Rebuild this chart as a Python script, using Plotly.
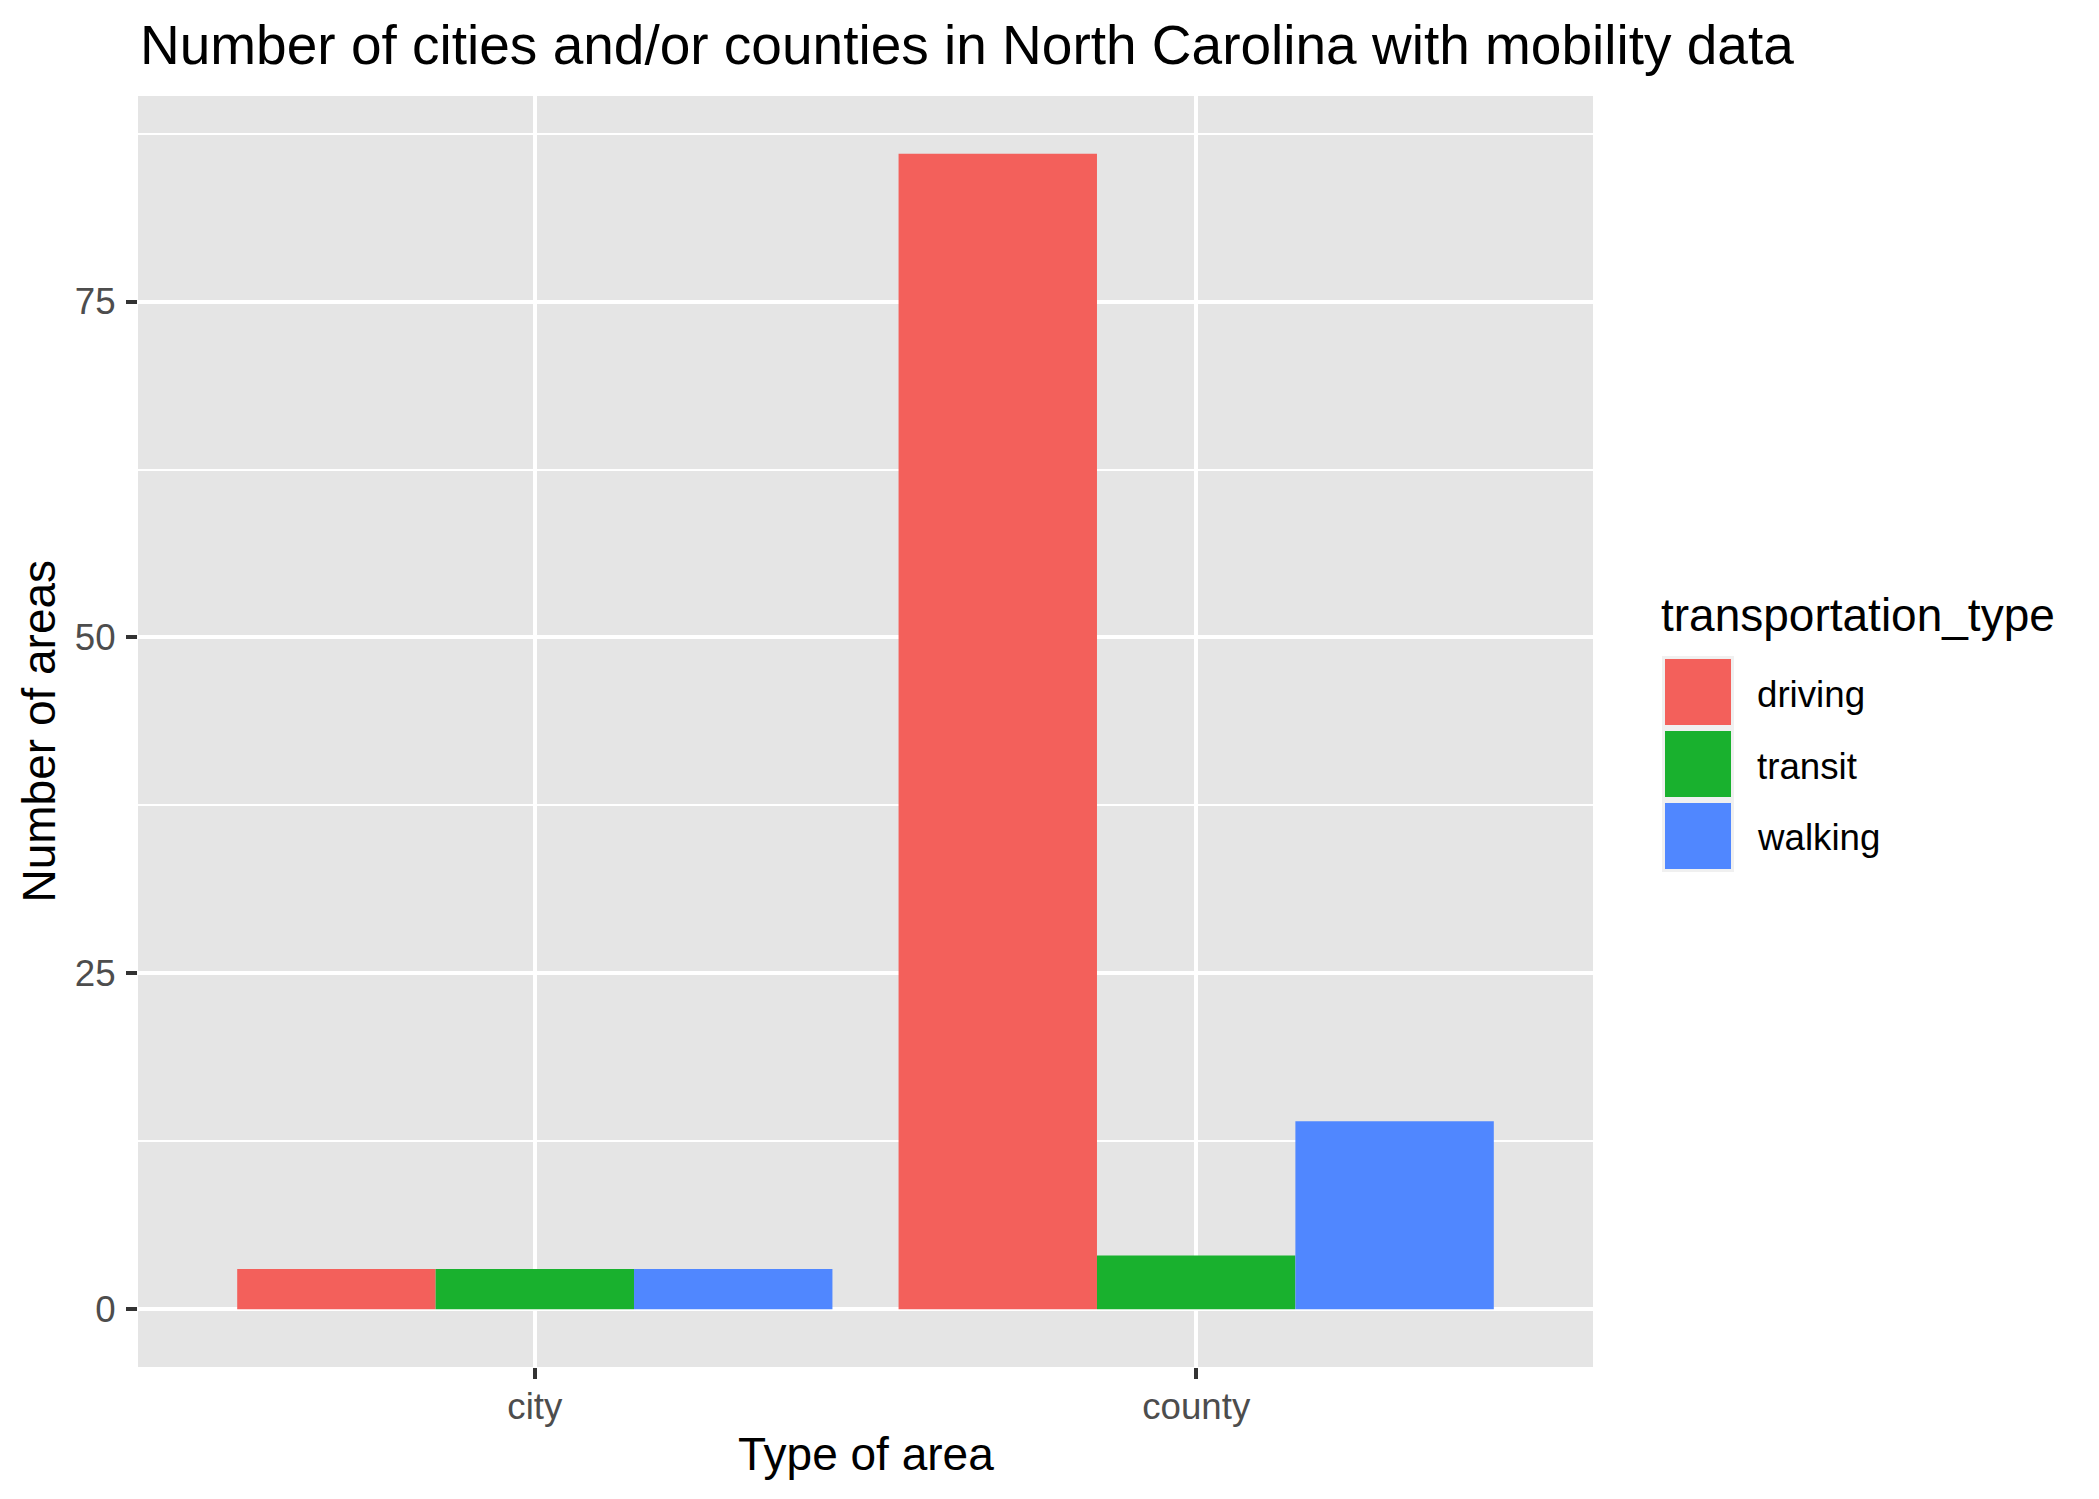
import plotly.graph_objects as go

# ---- data ----
area_types = ["city", "county"]
transport_types = ["driving", "transit", "walking"]
driving = [3, 86]
transit = [3, 4]
walking = [3, 14]
y_ticks = [0, 25, 50, 75]

colors = ["#F3605B", "#19B12E", "#5087FF"]
FONT = "Liberation Sans, Arial, Helvetica, sans-serif"

W, H = 2099, 1499
L, R, T, B = 138, 1593, 96, 1367
PW, PH = R - L, B - T


def px_x(x):
    return (x - L) / PW


def px_y(y):
    return (B - y) / PH


fig = go.Figure()
for name, vals, col in zip(transport_types, [driving, transit, walking], colors):
    fig.add_trace(go.Bar(x=area_types, y=vals, name=name,
                         marker=dict(color=col, line=dict(width=0)),
                         showlegend=False))

fig.update_layout(
    width=W, height=H, autosize=False,
    margin=dict(l=L, r=W - R, t=T, b=H - B, pad=0),
    paper_bgcolor="white", plot_bgcolor="#E5E5E5",
    barmode="group", bargap=0.1, bargroupgap=0,
    font=dict(family=FONT, color="black"),
    title=dict(text="Number of cities and/or counties in North Carolina with mobility data",
               font=dict(size=55, color="black", family=FONT),
               xref="container", x=140 / W, xanchor="left",
               yref="container", y=1 - 45 / H, yanchor="middle"),
)

fig.update_xaxes(
    range=[-0.6, 1.6], showgrid=True, gridcolor="white", gridwidth=4,
    ticks="outside", ticklen=11, tickwidth=4, tickcolor="#333333",
    tickfont=dict(size=36.7, color="#4D4D4D", family=FONT),
    ticklabelstandoff=-4, zeroline=False, showline=False,
)
fig.update_yaxes(
    range=[-4.3, 90.3], tickmode="array", tickvals=y_ticks,
    ticktext=[str(v) for v in y_ticks],
    showgrid=True, gridcolor="white", gridwidth=4,
    minor=dict(tickmode="linear", tick0=0, dtick=12.5, showgrid=True,
               gridcolor="white", gridwidth=2),
    ticks="outside", ticklen=11, tickwidth=4, tickcolor="#333333",
    tickfont=dict(size=36.7, color="#4D4D4D", family=FONT),
    ticklabelstandoff=3, zeroline=False, showline=False,
)

annotations = [
    dict(text="Type of area", xref="paper", yref="paper",
         x=0.5, y=px_y(1454), xanchor="center", yanchor="middle",
         showarrow=False, font=dict(size=46, color="black", family=FONT)),
    dict(text="Number of areas", xref="paper", yref="paper",
         x=px_x(38), y=0.5, xanchor="center", yanchor="middle", textangle=-90,
         showarrow=False, font=dict(size=46, color="black", family=FONT)),
    dict(text="transportation_type", xref="paper", yref="paper",
         x=px_x(1659), y=px_y(615), xanchor="left", yanchor="middle",
         showarrow=False, font=dict(size=46, color="black", family=FONT)),
]

shapes = [dict(type="rect", xref="paper", yref="paper",
               x0=px_x(1662), x1=px_x(1734), y0=px_y(872), y1=px_y(656),
               fillcolor="#F0F0F0", line=dict(width=0), layer="above")]
for i, (name, col) in enumerate(zip(transport_types, colors)):
    top = 659 + 72 * i
    shapes.append(dict(type="rect", xref="paper", yref="paper",
                       x0=px_x(1665), x1=px_x(1731), y0=px_y(top + 66), y1=px_y(top),
                       fillcolor=col, line=dict(width=0), layer="above"))
    annotations.append(dict(text=name, xref="paper", yref="paper",
                            x=px_x(1755), y=px_y(top + 35), xanchor="left", yanchor="middle",
                            showarrow=False,
                            font=dict(size=36.7, color="black", family=FONT)))

fig.update_layout(annotations=annotations, shapes=shapes)

fig.write_html("out.html", config={"displayModeBar": False},
               post_script="document.body.style.margin='0';document.body.style.padding='0';")
